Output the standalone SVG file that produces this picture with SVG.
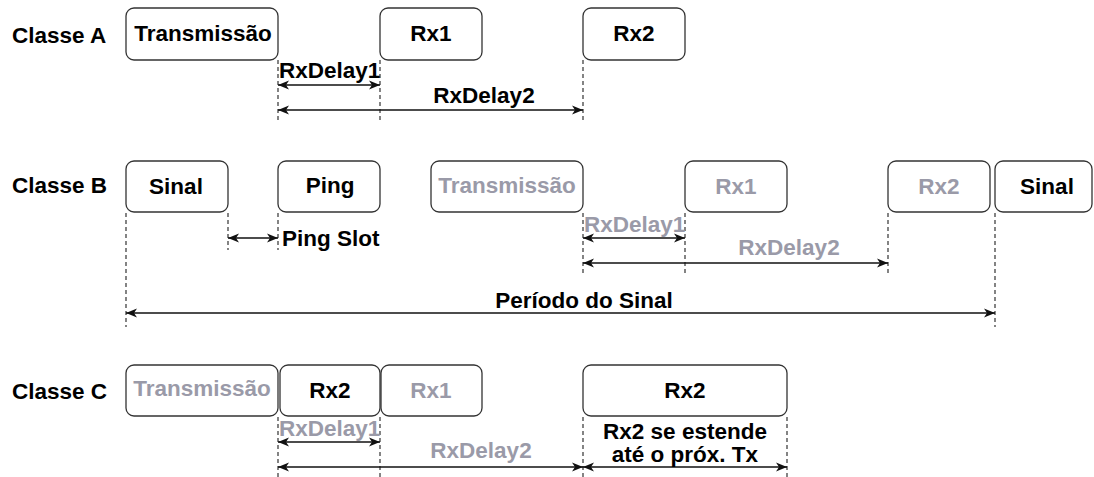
<svg xmlns="http://www.w3.org/2000/svg" width="1094" height="477" viewBox="0 0 1094 477">
<defs>
<marker id="arr" viewBox="0 0 12 10" refX="11" refY="5" markerWidth="12" markerHeight="10" markerUnits="userSpaceOnUse" orient="auto-start-reverse">
<path d="M0,0.5 L11,5 L0,9.5 L3,5 Z" fill="#111"/>
</marker>
</defs>
<style>
.box{fill:#fff;stroke:#333;stroke-width:1.3}
.t{font-family:"Liberation Sans",Arial,sans-serif;font-weight:bold;font-size:22.5px;fill:#000}
.g{fill:#9a9aa8}
.mid{text-anchor:middle}
.dash{stroke:#333;stroke-width:1.2;stroke-dasharray:4 3;fill:none}
.arrow{stroke:#111;stroke-width:1.3;fill:none;marker-start:url(#arr);marker-end:url(#arr)}
</style>
<rect width="1094" height="477" fill="#fff"/>

<g id="labels">
<text class="t" x="12" y="43">Classe A</text>
<text class="t" x="12" y="193">Classe B</text>
<text class="t" x="12" y="399">Classe C</text>
</g>

<g id="connectors">
<!-- Classe A -->
<line class="dash" x1="278" y1="60" x2="278" y2="123"/>
<line class="dash" x1="380" y1="60" x2="380" y2="123"/>
<line class="dash" x1="583" y1="60" x2="583" y2="123"/>
<line class="arrow" x1="278" y1="85" x2="380" y2="85"/>
<line class="arrow" x1="278" y1="110" x2="583" y2="110"/>
<text class="t" x="279" y="78">RxDelay1</text>
<text class="t mid" x="484" y="103">RxDelay2</text>
<!-- Classe B -->
<line class="dash" x1="228" y1="213" x2="228" y2="250"/>
<line class="dash" x1="278" y1="213" x2="278" y2="250"/>
<line class="arrow" x1="228" y1="238" x2="278" y2="238"/>
<text class="t" x="282" y="246">Ping Slot</text>
<line class="dash" x1="126" y1="213" x2="126" y2="327"/>
<line class="dash" x1="995" y1="213" x2="995" y2="327"/>
<line class="arrow" x1="126" y1="313" x2="995" y2="313"/>
<text class="t mid" x="584" y="308">Período do Sinal</text>
<line class="dash" x1="583" y1="213" x2="583" y2="276"/>
<line class="dash" x1="685" y1="213" x2="685" y2="276"/>
<line class="dash" x1="888" y1="213" x2="888" y2="276"/>
<line class="arrow" x1="583" y1="238" x2="685" y2="238"/>
<line class="arrow" x1="583" y1="263" x2="888" y2="263"/>
<text class="t g" x="584" y="232">RxDelay1</text>
<text class="t g mid" x="789" y="255">RxDelay2</text>
<!-- Classe C -->
<line class="dash" x1="278" y1="417" x2="278" y2="477"/>
<line class="dash" x1="380" y1="417" x2="380" y2="477"/>
<line class="dash" x1="583" y1="417" x2="583" y2="477"/>
<line class="dash" x1="787" y1="417" x2="787" y2="477"/>
<line class="arrow" x1="278" y1="442" x2="380" y2="442"/>
<line class="arrow" x1="278" y1="467" x2="583" y2="467"/>
<line class="arrow" x1="583" y1="467" x2="787" y2="467"/>
<text class="t g" x="279" y="436">RxDelay1</text>
<text class="t g mid" x="481" y="458">RxDelay2</text>
<text class="t mid" x="685" y="439">Rx2 se estende</text>
<text class="t mid" x="685" y="462">até o próx. Tx</text>
</g>

<!-- Classe A nodes -->
<g id="a-tx"><rect class="box" x="126" y="8" width="152" height="52" rx="8"/><text class="t mid" x="203" y="41">Transmissão</text></g>
<g id="a-rx1"><rect class="box" x="380" y="8" width="102" height="52" rx="8"/><text class="t mid" x="431" y="41">Rx1</text></g>
<g id="a-rx2"><rect class="box" x="583" y="8" width="102" height="52" rx="8"/><text class="t mid" x="634" y="41">Rx2</text></g>

<!-- Classe B nodes -->
<g id="b-sinal"><rect class="box" x="126" y="161" width="102" height="51" rx="8"/><text class="t mid" x="176" y="194">Sinal</text></g>
<g id="b-ping"><rect class="box" x="278" y="161" width="102" height="51" rx="8"/><text class="t mid" x="330" y="193">Ping</text></g>
<g id="b-tx"><rect class="box" x="431" y="161" width="152" height="51" rx="8"/><text class="t g mid" x="507" y="193">Transmissão</text></g>
<g id="b-rx1"><rect class="box" x="685" y="161" width="102" height="51" rx="8"/><text class="t g mid" x="736" y="194">Rx1</text></g>
<g id="b-rx2"><rect class="box" x="888" y="161" width="102" height="51" rx="8"/><text class="t g mid" x="939" y="194">Rx2</text></g>
<g id="b-sinal2"><rect class="box" x="995" y="161" width="97" height="51" rx="8"/><text class="t mid" x="1047" y="194">Sinal</text></g>

<!-- Classe C nodes -->
<g id="c-tx"><rect class="box" x="126" y="365" width="152" height="51" rx="8"/><text class="t g mid" x="202" y="396">Transmissão</text></g>
<g id="c-rx2"><rect class="box" x="280" y="365" width="100" height="51" rx="8"/><text class="t mid" x="330" y="398">Rx2</text></g>
<g id="c-rx1"><rect class="box" x="381" y="365" width="101" height="51" rx="8"/><text class="t g mid" x="431" y="398">Rx1</text></g>
<g id="c-rx2b"><rect class="box" x="583" y="365" width="204" height="51" rx="8"/><text class="t mid" x="685" y="398">Rx2</text></g>
</svg>
